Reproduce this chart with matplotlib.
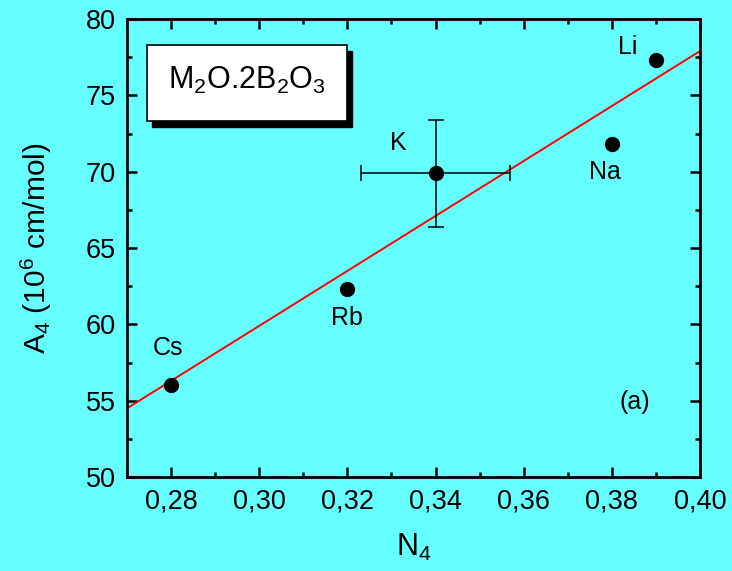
import matplotlib
matplotlib.use("Agg")
import matplotlib.pyplot as plt
from matplotlib.patches import Rectangle
from matplotlib.ticker import MultipleLocator, FuncFormatter

# ── data ──────────────────────────────────────────────────────────────────────

labels = ["Cs", "Rb", "K", "Na", "Li"]
n4     = [0.28, 0.32, 0.34, 0.38, 0.39]
a4     = [56.0, 62.3, 69.9, 71.8, 77.3]

k_xerr = 0.017
k_yerr = 3.5

fit_x = [0.27, 0.40]
fit_y = [54.5, 77.9]

label_pos = {
    "Cs": (0.2792, 58.45),
    "Rb": (0.3199, 60.41),
    "K":  (0.3315, 71.88),
    "Na": (0.3784, 69.98),
    "Li": (0.3836, 78.17),
}

BG = "#66FFFF"

# ── style ─────────────────────────────────────────────────────────────────────

plt.rcParams["font.family"] = ["Liberation Sans", "DejaVu Sans"]
plt.rcParams["mathtext.fontset"] = "custom"
plt.rcParams["mathtext.rm"] = "Liberation Sans"
plt.rcParams["mathtext.it"] = "Liberation Sans"

fig = plt.figure(figsize=(7.32, 5.71), dpi=100, facecolor=BG)
ax = fig.add_axes([0.1735, 0.1646, 0.7828, 0.8021], facecolor=BG)

# ── marks ─────────────────────────────────────────────────────────────────────

ax.plot(fit_x, fit_y, color="red", lw=1.4, zorder=2)

for name, x, y in zip(labels, n4, a4):
    if name == "K":
        ax.errorbar(x, y, xerr=k_xerr, yerr=k_yerr, fmt="o", color="black",
                    ms=10, elinewidth=1.1, capsize=6, capthick=1.1, zorder=3)
    else:
        ax.plot(x, y, "o", color="black", ms=10, zorder=3)
    tx, ty = label_pos[name]
    ax.text(tx, ty, name, fontsize=18, ha="center", va="center")

ax.text(0.3852, 54.91, "(a)", fontsize=18, ha="center", va="center")

# ── composition box with drop shadow ──────────────────────────────────────────

bx, by, bw, bh = 0.0349, 0.777, 0.349, 0.166
ax.add_patch(Rectangle((bx + 0.009, by - 0.013), bw, bh, transform=ax.transAxes,
                       facecolor="black", edgecolor="black", zorder=4))
ax.add_patch(Rectangle((bx, by), bw, bh, transform=ax.transAxes,
                       facecolor="white", edgecolor="black", lw=1.2, zorder=5))
# plain "." between the math pieces so no extra punctuation space is added
ax.text(bx + bw / 2, by + bh / 2 + 0.005,
        r"$\mathregular{M_2O}$.$\mathregular{2B_2O_3}$",
        transform=ax.transAxes, fontsize=22, ha="center", va="center", zorder=6)

# ── axes ──────────────────────────────────────────────────────────────────────

ax.set_xlim(0.27, 0.40)
ax.set_ylim(50, 80)
ax.xaxis.set_major_locator(MultipleLocator(0.02))
ax.xaxis.set_minor_locator(MultipleLocator(0.01))
ax.yaxis.set_major_locator(MultipleLocator(5))
ax.yaxis.set_minor_locator(MultipleLocator(2.5))
ax.xaxis.set_major_formatter(FuncFormatter(lambda v, p: f"{v:.2f}".replace(".", ",")))

ax.tick_params(which="both", direction="in", top=True, right=True,
               labeltop=False, labelright=False, width=1.8, labelsize=19.5, pad=8)
ax.tick_params(which="major", length=7)
ax.tick_params(which="minor", length=3.6)
for s in ax.spines.values():
    s.set_linewidth(2)

ax.set_xlabel(r"N$_4$", fontsize=22, labelpad=13)
ax.set_ylabel(r"A$_4$ (10$^6$ cm/mol)", fontsize=21.5, labelpad=23)

fig.savefig("out.png", dpi=100, facecolor=BG)
